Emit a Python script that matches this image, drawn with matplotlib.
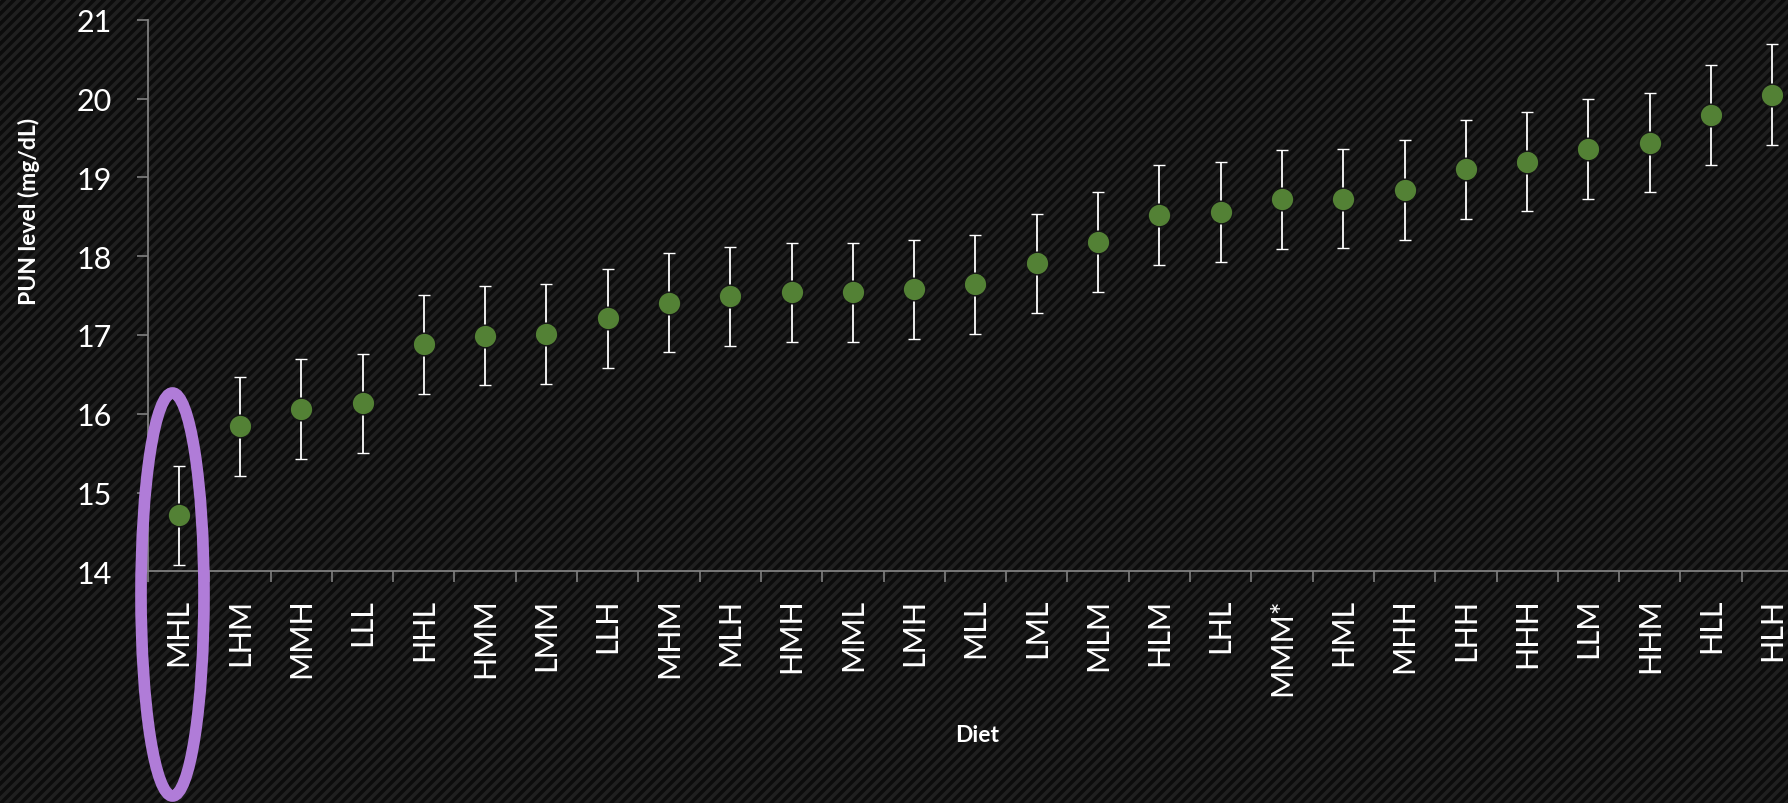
import matplotlib
matplotlib.use("Agg")
import matplotlib.pyplot as plt
import numpy as np
from matplotlib.patches import Ellipse

plt.rcParams['font.family'] = ['Lato', 'DejaVu Sans']

diets = ["MHL", "LHM", "MMH", "LLL", "HHL", "HMM", "LMM", "LLH", "MHM", "MLH",
         "HMH", "MML", "LMH", "MLL", "LML", "MLM", "HLM", "LHL", "MMM*", "HML",
         "MHH", "LHH", "HHH", "LLM", "HHM", "HLL", "HLH"]
pun = [14.71, 15.84, 16.06, 16.13, 16.88, 16.99, 17.01, 17.21, 17.41, 17.49,
       17.54, 17.54, 17.58, 17.64, 17.91, 18.18, 18.52, 18.56, 18.72, 18.73,
       18.84, 19.10, 19.20, 19.36, 19.44, 19.79, 20.05]
err = [0.63, 0.63, 0.63, 0.63, 0.63, 0.63, 0.63, 0.63, 0.63, 0.63,
       0.63, 0.63, 0.63, 0.63, 0.63, 0.63, 0.63, 0.63, 0.63, 0.63,
       0.63, 0.63, 0.63, 0.63, 0.63, 0.63, 0.64]
yticks = [14, 15, 16, 17, 18, 19, 20, 21]

W, H = 1788, 804
fig = plt.figure(figsize=(W / 100, H / 100), dpi=100)
fig.patch.set_facecolor('#0c0c0c')

# striped background
bg = fig.add_axes([0, 0, 1, 1], zorder=0)
bg.set_xlim(0, W)
bg.set_ylim(0, H)
bg.axis('off')
for c in np.arange(-H - 20, W + 20, 10.0):
    bg.plot([c, c + H + 40], [-20, H + 20], color='#1f1f1f', lw=2.6,
            solid_capstyle='butt')

# main axes (extends past the right edge, as in the reference)
x0, x1 = 148, 1803
ytop, ybot = 20.7, 572.3
ax = fig.add_axes([x0 / W, 1 - ybot / H, (x1 - x0) / W, (ybot - ytop) / H], zorder=1)
ax.patch.set_alpha(0)

x = np.arange(len(diets))
ax.errorbar(x, pun, yerr=err, fmt='o', color='#538135', ms=16.3,
            mec='#141414', mew=1.0, ecolor='white', elinewidth=1.3,
            capsize=4.3, capthick=1.3, zorder=3)

ax.set_xlim(-0.5, len(diets) - 0.5)
ax.set_ylim(14, 21)
ax.set_yticks(yticks)
ax.set_yticklabels([str(v) for v in yticks], color='white', fontsize=22)
ax.set_xticks(x)
ax.set_xticklabels(diets, rotation=90, color='white', fontsize=22, va='top')
ax.set_xticks(np.arange(len(diets) + 1) - 0.5, minor=True)
ax.tick_params(axis='x', which='major', length=0, pad=19)
ax.tick_params(axis='x', which='minor', length=8, width=1.2, color='#808080')
ax.tick_params(axis='y', which='major', length=8, width=1.2, color='#808080', pad=18)

for s in ['top', 'right']:
    ax.spines[s].set_visible(False)
for s in ['left', 'bottom']:
    ax.spines[s].set_color('#808080')
    ax.spines[s].set_linewidth(1.3)

fig.text(29 / W, 1 - 211 / H, "PUN level (mg/dL)", rotation=90, color='white',
         fontsize=16.5, fontweight='bold', ha='center', va='center')
fig.text(977 / W, 1 - 736 / H, "Diet", color='white', fontsize=16.5,
         fontweight='bold', ha='center', va='center')

# highlight ellipse
ell = Ellipse((172.5 / W, 1 - 595.5 / H), 63 / W, 403 / H, transform=fig.transFigure,
              fill=False, edgecolor='#B07CD8', lw=8.4, zorder=5)
fig.patches.append(ell)

fig.savefig('out.png', dpi=100, facecolor=fig.get_facecolor())
